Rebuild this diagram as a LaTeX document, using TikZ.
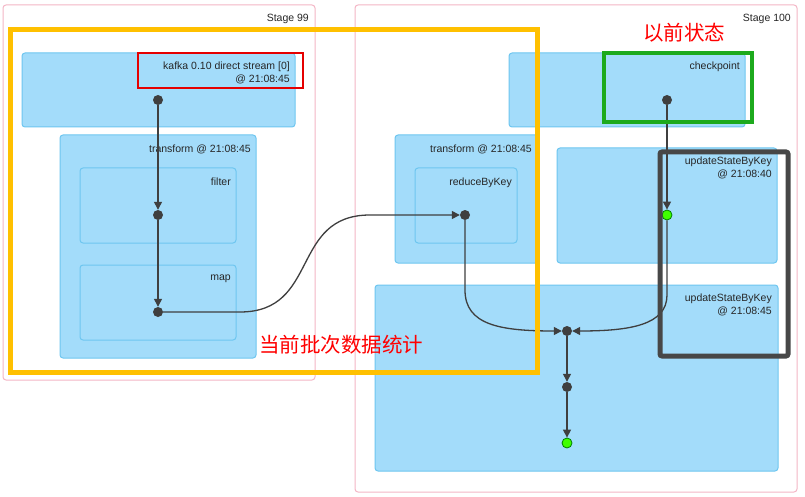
\documentclass[tikz,border=0pt]{standalone}
\usepackage{fontspec}
\setmainfont{Liberation Sans}
\newfontfamily\cjk{Noto Sans CJK SC}
\usetikzlibrary{arrows.meta}
\definecolor{bfill}{HTML}{A3DCFA}
\definecolor{bdraw}{HTML}{6EC6F0}
\definecolor{stg}{HTML}{F4B6C6}
\definecolor{dotc}{HTML}{3F3F3F}
\definecolor{yel}{HTML}{FFC000}
\definecolor{grn}{HTML}{1DAA1D}
\begin{document}
\begin{tikzpicture}[x=1pt,y=-1pt,
  stage/.style={draw=stg,rounded corners=3pt,line width=1pt},
  box/.style={draw=bdraw,fill=bfill,rounded corners=3pt,line width=1pt},
  lbl/.style={font=\fontsize{10.5}{12.5}\selectfont,anchor=north east,align=right,inner sep=0pt,text=black!85},
  dot/.style={circle,fill=dotc,inner sep=0pt,minimum size=10pt},
  gdot/.style={circle,fill=green!75!yellow,draw=green!50!black,line width=0.8pt,inner sep=0pt,minimum size=10pt},
  edge/.style={draw=dotc,line width=1.3pt,-{Triangle[length=8pt,width=8pt]}},
  cn/.style={font=\cjk\fontsize{20.5}{22}\selectfont,text=red,inner sep=0pt}]
\useasboundingbox (0,0) rectangle (805,497);
\fill[white] (0,0) rectangle (805,497);
% Stage 99
\draw[stage] (3,5) rectangle (315,380);
\node[lbl] at (309,14) {Stage 99};
\draw[box] (22,53) rectangle (295,127);
\node[lbl] at (290,62) {kafka 0.10 direct stream [0]\\@ 21:08:45};
\draw[box] (60,135) rectangle (256,358);
\node[lbl] at (251,145) {transform @ 21:08:45};
\draw[box] (80,168) rectangle (236,243);
\node[lbl] at (231,178) {filter};
\draw[box] (80,265) rectangle (236,340);
\node[lbl] at (231,275) {map};
% Stage 100
\draw[stage] (355,5) rectangle (797,492);
\node[lbl] at (791,14) {Stage 100};
\draw[box] (509,53) rectangle (745,127);
\node[lbl] at (740,62) {checkpoint};
\draw[box] (395,135) rectangle (538,263);
\node[lbl] at (532,145) {transform @ 21:08:45};
\draw[box] (415,168) rectangle (517,243);
\node[lbl] at (512,178) {reduceByKey};
\draw[box] (557,148) rectangle (777,263);
\node[lbl] at (772,157) {updateStateByKey\\@ 21:08:40};
\draw[box] (375,285) rectangle (778,471);
\node[lbl] at (772,294) {updateStateByKey\\@ 21:08:45};
% dots
\node[dot] (k) at (158,100) {};
\node[dot] (f) at (158,215) {};
\node[dot] (m) at (158,312) {};
\node[dot] (r) at (465,215) {};
\node[dot] (c) at (667,100) {};
\node[gdot] (u) at (667,215) {};
\node[dot] (j) at (567,331) {};
\node[dot] (p) at (567,387) {};
\node[gdot] (o) at (567,443) {};
% edges
\draw[edge] (k) -- (f);
\draw[edge] (f) -- (m);
\draw[edge] (m) -- (240,312) .. controls (320,312) and (290,215) .. (370,215) -- (r);
\draw[edge] (r) -- (465,290) .. controls (465,325) and (500,331) .. (j);
\draw[edge] (c) -- (u);
\draw[edge] (u) -- (667,295) .. controls (667,325) and (630,331) .. (j);
\draw[edge] (j) -- (p);
\draw[edge] (p) -- (o);
% highlights
\draw[yel,line width=5pt] (10,30) rectangle (537,372);
\draw[red!90!black,line width=2pt] (138,53) rectangle (303,88);
\draw[grn,line width=4.5pt] (604,53) rectangle (752,122);
\draw[black!72,line width=5pt,rounded corners=2pt] (660,152) rectangle (788,356);
\node[cn] at (341,345) {当前批次数据统计};
\node[cn] at (684,33) {以前状态};
\end{tikzpicture}
\end{document}
